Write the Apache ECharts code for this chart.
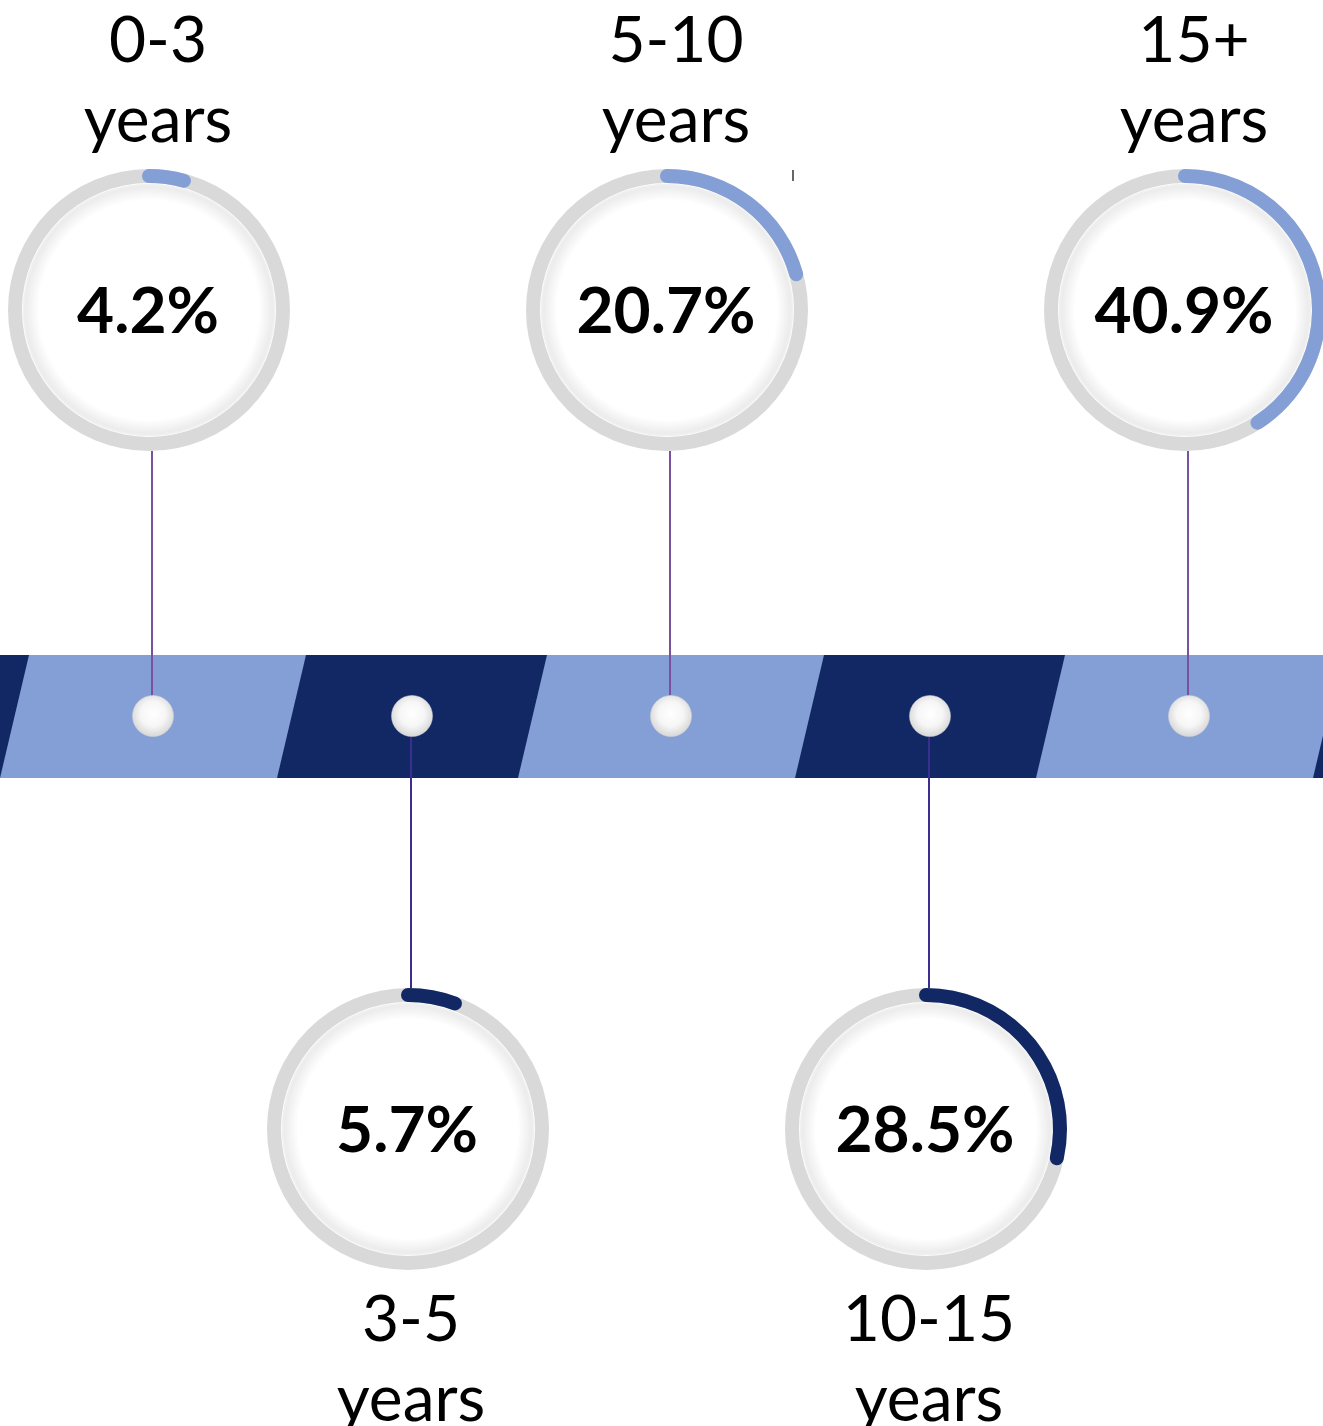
<!DOCTYPE html>
<html>
<head>
<meta charset="utf-8">
<title>Tenure distribution</title>
<script src="https://cdn.jsdelivr.net/npm/echarts@6/dist/echarts.min.js"></script>
<style>
  html, body { margin: 0; padding: 0; background: #ffffff; }
  #chart { width: 1323px; height: 1426px; }
</style>
</head>
<body>
<div id="chart"></div>
<script>
// Tenure bands and the share of people in each
const rangeLabels = ['0-3', '3-5', '5-10', '10-15', '15+'];
const unitLabel = 'years';
const shareValues = [4.2, 5.7, 20.7, 28.5, 40.9];

// Palette
const LIGHT_BLUE = '#849fd5';
const NAVY = '#122864';
const RING_GREY = '#d9d9d9';
const LINE_TOP = '#7b509f';
const LINE_BOTTOM = '#3b2e8e';

// Layout (pixels)
const BAND_TOP = 655, BAND_BOTTOM = 778, DOT_Y = 716;
const TOP_ROW_Y = 310, BOTTOM_ROW_Y = 1129;
const RING_R = 141, RING_W = 14, DOT_SIZE = 41;
const SEG_OVERLAP = 9, SEG_SLANT = 14.5;
const RING_SHIFT = -4;

const chart = echarts.init(document.getElementById('chart'), null, { renderer: 'canvas' });

const idx = shareValues.map((_, i) => i);
const isTop = i => i % 2 === 0;
const rowY = i => (isTop(i) ? TOP_ROW_Y : BOTTOM_ROW_Y);

// Timeline band: navy strip with slanted light-blue panels under the even items
function renderBand(params, api) {
  const i = api.value(0);
  const children = [];
  if (params.dataIndex === 0) {
    const l = api.coord([-3, BAND_TOP]);
    const r = api.coord([8, BAND_BOTTOM]);
    children.push({ type: 'rect', shape: { x: l[0], y: l[1], width: r[0] - l[0], height: r[1] - l[1] },
      style: { fill: NAVY } });
  }
  if (isTop(i)) {
    const lm = api.coord([i - 0.5, BAND_TOP])[0] - SEG_OVERLAP;
    const rm = api.coord([i + 0.5, BAND_TOP])[0] + SEG_OVERLAP;
    const yt = api.coord([i, BAND_TOP])[1];
    const yb = api.coord([i, BAND_BOTTOM])[1];
    children.push({ type: 'polygon', shape: { points: [
      [lm + SEG_SLANT, yt], [rm + SEG_SLANT, yt], [rm - SEG_SLANT, yb], [lm - SEG_SLANT, yb]
    ] }, style: { fill: LIGHT_BLUE } });
  }
  return { type: 'group', children };
}

// Connectors between each marker on the band and its circle
function renderConnector(params, api) {
  const i = api.value(0);
  const x = api.coord([i, DOT_Y])[0] - 1;
  const y1 = isTop(i) ? TOP_ROW_Y + RING_R : DOT_Y + DOT_SIZE / 2;
  const y2 = isTop(i) ? DOT_Y - DOT_SIZE / 2 : BOTTOM_ROW_Y - RING_R;
  const p1 = api.coord([i, y1]), p2 = api.coord([i, y2]);
  return { type: 'line', shape: { x1: x, y1: p1[1], x2: x, y2: p2[1] },
    style: { stroke: isTop(i) ? LINE_TOP : LINE_BOTTOM, lineWidth: 2 } };
}

// White face inside each ring, softly shaded toward its rim
function renderFace(params, api) {
  const i = api.value(0);
  const c = api.coord([i, rowY(i)]);
  return { type: 'circle', shape: { cx: c[0] + RING_SHIFT, cy: c[1], r: RING_R - RING_W },
    style: {
      fill: { type: 'radial', x: 0.5, y: 0.5, r: 0.5, colorStops: [
        { offset: 0, color: '#ffffff' }, { offset: 0.86, color: '#ffffff' },
        { offset: 0.965, color: '#ececec' }, { offset: 1, color: '#f4f4f4' }
      ] },
      stroke: '#ffffff', lineWidth: 1.5
    } };
}

chart.setOption({
  animation: false,
  backgroundColor: '#ffffff',
  grid: { left: 23.5, right: 4.5, top: 0, bottom: 0 },
  xAxis: { type: 'value', min: -0.5, max: 4.5, show: false },
  yAxis: { type: 'value', min: 0, max: 1426, inverse: true, show: false },
  series: [
    { type: 'custom', renderItem: renderBand, data: idx.map(i => [i]), clip: false, z: 1, silent: true },
    { type: 'custom', renderItem: renderConnector, data: idx.map(i => [i]), clip: false, z: 2, silent: true },
    { type: 'custom', renderItem: renderFace, data: idx.map(i => [i]), clip: false, z: 2, silent: true },
    {
      type: 'scatter', z: 3, silent: true,
      symbol: 'circle', symbolSize: DOT_SIZE,
      data: idx.map(i => [i, DOT_Y]),
      itemStyle: {
        opacity: 1,
        color: { type: 'radial', x: 0.5, y: 0.45, r: 0.55, colorStops: [
          { offset: 0, color: '#ffffff' }, { offset: 0.55, color: '#f6f6f6' }, { offset: 1, color: '#d6d6d6' }
        ] },
        borderColor: '#d8d8d8', borderWidth: 0.5
      }
    }
  ]
});

// One ring per tenure band, centred above or below its marker
const gauges = idx.map(i => {
  const cx = chart.convertToPixel({ xAxisIndex: 0 }, i) + RING_SHIFT;
  const top = isTop(i);
  return {
    type: 'gauge', z: 5,
    center: [cx, rowY(i)],
    radius: RING_R,
    startAngle: 90, endAngle: -270,
    min: 0, max: 100,
    axisLine: { lineStyle: { width: RING_W, color: [[1, RING_GREY]] } },
    progress: { show: true, width: RING_W, roundCap: true, itemStyle: { color: top ? LIGHT_BLUE : NAVY } },
    pointer: { show: false },
    anchor: { show: false },
    axisTick: { show: false }, splitLine: { show: false }, axisLabel: { show: false },
    title: {
      show: true, offsetCenter: [top ? 9 : 3, top ? -229 : 231],
      fontFamily: 'Lato', fontSize: 64, lineHeight: 80, color: '#000000'
    },
    detail: {
      show: true, offsetCenter: [-1, 2], valueAnimation: false,
      formatter: '{value}%',
      fontFamily: 'Lato', fontWeight: 'bold', fontSize: 64, color: '#000000'
    },
    data: [{ value: shareValues[i], name: rangeLabels[i] + '\n' + unitLabel }]
  };
});

chart.setOption({
  series: chart.getOption().series.concat(gauges),
  graphic: [{ type: 'line', shape: { x1: 793, y1: 170, x2: 793, y2: 181 }, style: { stroke: '#000000', lineWidth: 1.2 } }]
});
</script>
</body>
</html>
